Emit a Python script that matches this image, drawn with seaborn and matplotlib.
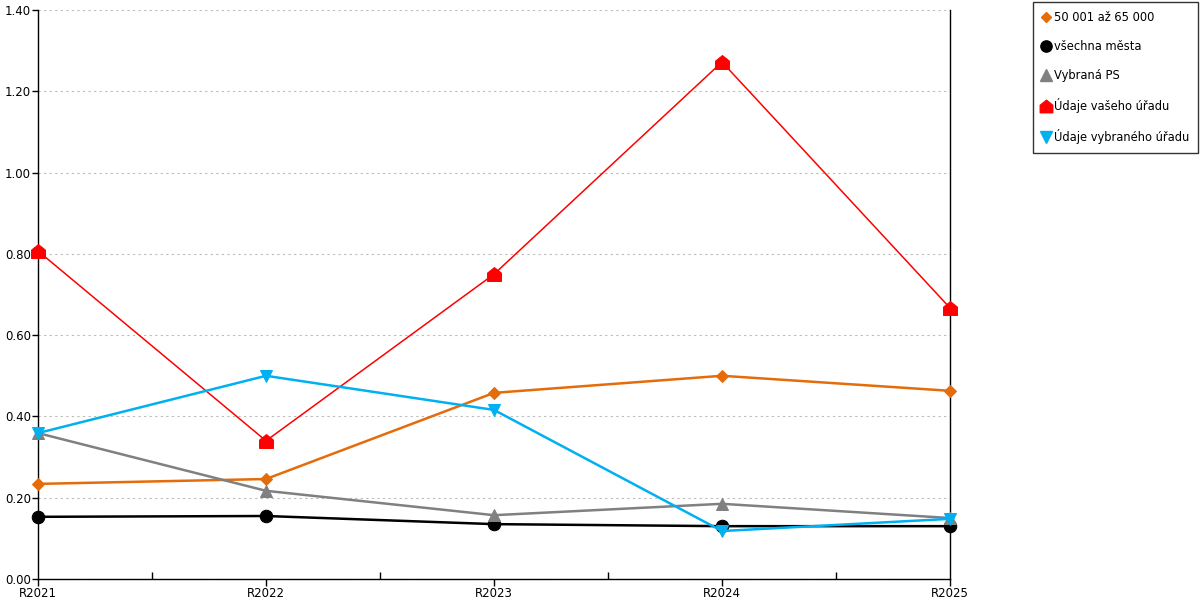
import numpy as np
import pandas as pd
import seaborn as sns
import matplotlib.pyplot as plt
from matplotlib.path import Path
from matplotlib.lines import Line2D
from matplotlib.ticker import MultipleLocator, FixedLocator

years = ['R2021', 'R2022', 'R2023', 'R2024', 'R2025']
s_50k = [0.234, 0.246, 0.458, 0.500, 0.463]
s_all = [0.153, 0.155, 0.135, 0.130, 0.130]
s_ps = [0.359, 0.217, 0.157, 0.185, 0.150]
s_vas = [0.807, 0.340, 0.750, 1.272, 0.667]
s_vyb = [0.359, 0.500, 0.416, 0.118, 0.148]

names = ['50 001 až 65 000', 'všechna města', 'Vybraná PS',
         'Údaje vašeho úřadu', 'Údaje vybraného úřadu']
series = [s_50k, s_all, s_ps, s_vas, s_vyb]

house = Path([(-1, -1), (1, -1), (1, 0.2), (0, 1), (-1, 0.2), (-1, -1)],
             [Path.MOVETO, Path.LINETO, Path.LINETO, Path.LINETO, Path.LINETO, Path.CLOSEPOLY])
styles = [
    dict(color='#E46C0A', marker='D', ms=6, lw=1.8),
    dict(color='#000000', marker='o', ms=9, lw=1.8),
    dict(color='#808080', marker='^', ms=9, lw=1.8),
    dict(color='#FF0000', marker=house, ms=10, lw=1.1),
    dict(color='#00B0F0', marker='v', ms=9, lw=1.8),
]

sns.set_style('white')
plt.rcParams['font.family'] = ['DejaVu Sans']

fig = plt.figure(figsize=(12, 6), dpi=100)
ax = fig.add_axes([38 / 1200, 21 / 600, 912 / 1200, 569 / 600])

for name, vals, st in zip(names, series, styles):
    df = pd.DataFrame({'rok': np.arange(len(years)), 'hodnota': vals})
    sns.lineplot(data=df, x='rok', y='hodnota', ax=ax, color=st['color'],
                 marker=st['marker'], markersize=st['ms'], linewidth=st['lw'],
                 markeredgecolor=st['color'], legend=False, clip_on=False, zorder=3)

ax.set_xlim(0, len(years) - 1)
ax.set_ylim(0, 1.4)
ax.yaxis.set_major_locator(MultipleLocator(0.2))
ax.yaxis.set_major_formatter(plt.FuncFormatter(lambda v, p: f'{v:.2f}'))
ax.set_xticks(range(len(years)))
ax.set_xticklabels(years)
ax.xaxis.set_minor_locator(FixedLocator(np.arange(0.5, len(years) - 1, 1)))
ax.tick_params(axis='x', which='major', bottom=True, direction='out', length=5, width=1,
               labelsize=8.5, pad=1, colors='black')
ax.tick_params(axis='x', which='minor', bottom=True, direction='in', length=5, width=1, color='black')
ax.tick_params(axis='y', left=True, direction='out', length=4, width=1, labelsize=8.5, pad=1,
               colors='black')
ax.set_xlabel('')
ax.set_ylabel('')
ax.grid(axis='y', color='#BBBBBB', linestyle=(0, (2, 3)), linewidth=0.8)
ax.set_axisbelow(True)
for side in ['left', 'bottom', 'right']:
    ax.spines[side].set_visible(True)
    ax.spines[side].set_color('black')
    ax.spines[side].set_linewidth(1)
ax.spines['top'].set_visible(False)

handles = [Line2D([], [], linestyle='none', color=st['color'], marker=st['marker'],
                  markersize=st['ms'] * 0.9, markeredgecolor=st['color']) for st in styles]
leg = fig.legend(handles, names, loc='upper right', bbox_to_anchor=(1198 / 1200, 1 - 2 / 600),
                 frameon=True, fancybox=False, edgecolor='black', fontsize=8.3,
                 handlelength=0.8, handletextpad=0.3, labelspacing=1.4,
                 borderpad=0.75, borderaxespad=0)
leg.get_frame().set_linewidth(1)
for t in leg.get_texts():
    t.set_color('black')

fig.savefig('out.png', dpi=100)
plt.close(fig)
